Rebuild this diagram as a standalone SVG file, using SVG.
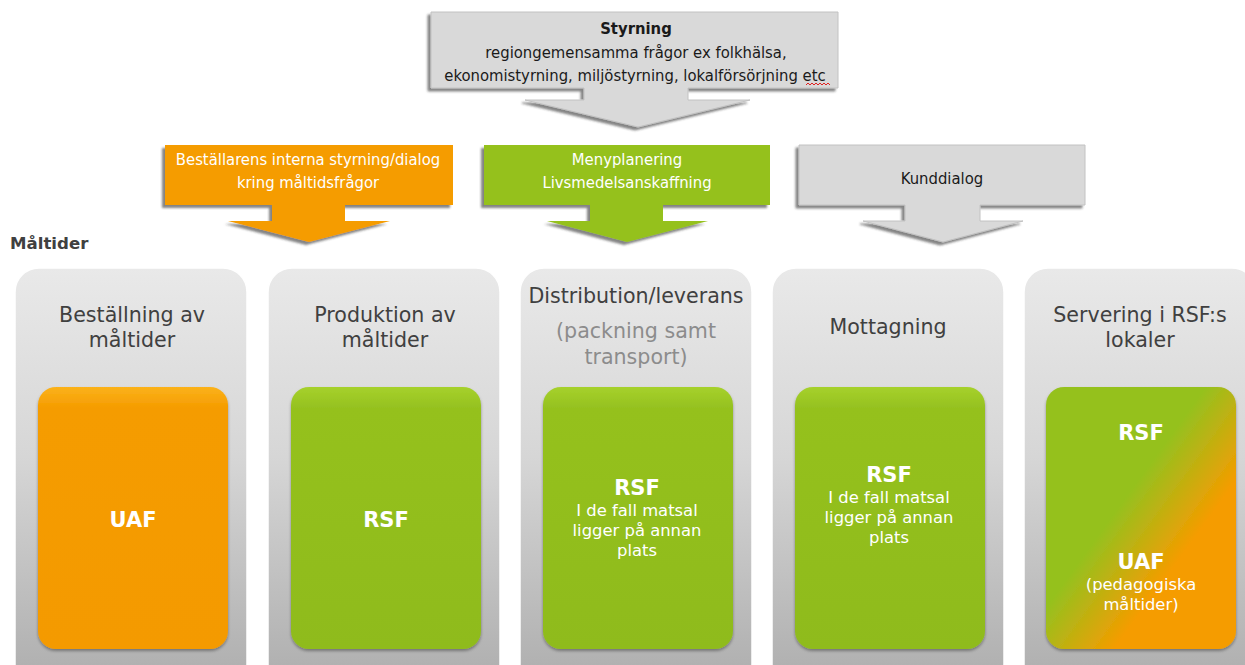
<svg xmlns="http://www.w3.org/2000/svg" width="1245" height="665" viewBox="0 0 1245 665">
  <defs>
    <linearGradient id="colBg" x1="0" y1="0" x2="0" y2="1">
      <stop offset="0" stop-color="#e9e9e9"/>
      <stop offset="0.45" stop-color="#d6d6d6"/>
      <stop offset="1" stop-color="#adadad"/>
    </linearGradient>
    <linearGradient id="orangeFill" x1="0" y1="0" x2="0" y2="1">
      <stop offset="0" stop-color="#fbb21a"/>
      <stop offset="0.08" stop-color="#f59c00"/>
      <stop offset="1" stop-color="#f49a00"/>
    </linearGradient>
    <linearGradient id="greenFill" x1="0" y1="0" x2="0" y2="1">
      <stop offset="0" stop-color="#a6d12c"/>
      <stop offset="0.08" stop-color="#95c11f"/>
      <stop offset="1" stop-color="#8fbb1d"/>
    </linearGradient>
    <linearGradient id="mixFill" x1="0" y1="0" x2="1" y2="1">
      <stop offset="0" stop-color="#95c11f"/>
      <stop offset="0.42" stop-color="#95c11f"/>
      <stop offset="0.68" stop-color="#f59c00"/>
      <stop offset="1" stop-color="#f59c00"/>
    </linearGradient>
    <filter id="shade" x="-10%" y="-10%" width="120%" height="120%">
      <feDropShadow dx="0" dy="2" stdDeviation="1.5" flood-color="#000" flood-opacity="0.35"/>
    </filter>
    <filter id="arrowShade" x="-10%" y="-10%" width="120%" height="130%">
      <feDropShadow dx="-3" dy="3" stdDeviation="0.8" flood-color="#333" flood-opacity="0.6"/>
    </filter>
  </defs>
  <style>
    .arrow-gray { fill: #d9d9d9; stroke: #c2c2c2; stroke-width: 1; }
    .arrow-orange { fill: #f59c00; }
    .arrow-green { fill: #95c11f; }
    .col { fill: url(#colBg); stroke: #ffffff; stroke-width: 1.5; }
    .hdr { font-family: "DejaVu Sans Condensed", "DejaVu Sans", sans-serif; font-stretch: condensed; font-size: 16.5px; text-anchor: middle; }
    .hdr-dark { fill: #1a1a1a; }
    .hdr-light { fill: #ffffff; }
    .title { font-family: "DejaVu Sans", Verdana, sans-serif; font-size: 20.6px; fill: #404040; text-anchor: middle; }
    .subtitle { font-family: "DejaVu Sans", Verdana, sans-serif; font-size: 20.6px; fill: #8c8c8c; text-anchor: middle; }
    .big { font-family: "DejaVu Sans", Verdana, sans-serif; font-size: 21px; font-weight: bold; fill: #ffffff; text-anchor: middle; }
    .small { font-family: "DejaVu Sans", Verdana, sans-serif; font-size: 16.4px; fill: #ffffff; text-anchor: middle; }
  </style>

  <!-- section label -->
  <text x="10" y="249" font-family="DejaVu Sans, Verdana, sans-serif" font-size="16.6" font-weight="bold" fill="#404040">Måltider</text>

  <!-- connectors: block arrows feeding the process steps -->
  <g id="connectors">
    <g id="arrow-styrning" filter="url(#arrowShade)">
      <path class="arrow-gray" d="M431,12 H838 V88 H688 V100 H750 L638,127 L525,100 H584 V88 H431 Z"/>
    </g>
    <g id="arrow-bestallare" filter="url(#arrowShade)">
      <path class="arrow-orange" d="M165,145 H453 V205 H345 V221 H390 L309,242 L228,221 H272 V205 H165 Z"/>
    </g>
    <g id="arrow-meny" filter="url(#arrowShade)">
      <path class="arrow-green" d="M484,145 H770 V205 H663 V221 H708 L627,242 L547,221 H590 V205 H484 Z"/>
    </g>
    <g id="arrow-kund" filter="url(#arrowShade)">
      <path class="arrow-gray" d="M799,145 H1085 V205 H980 V221 H1023 L943,242 L863,221 H905 V205 H799 Z"/>
    </g>
  </g>

  <!-- arrow captions -->
  <g id="label-styrning">
    <text class="hdr hdr-dark" x="636" y="34" font-weight="bold" font-size="16.9">Styrning</text>
    <text class="hdr hdr-dark" x="636" y="58">regiongemensamma frågor ex folkhälsa,</text>
    <text class="hdr hdr-dark" x="635" y="81">ekonomistyrning, miljöstyrning, lokalförsörjning etc</text>
    <path d="M806,85 l2,-2 l2,2 l2,-2 l2,2 l2,-2 l2,2 l2,-2 l2,2 l2,-2 l2,2 l2,-2 l2,2" fill="none" stroke="#e02020" stroke-width="1"/>
  </g>
  <g id="label-bestallare">
    <text class="hdr hdr-light" x="308" y="165">Beställarens interna styrning/dialog</text>
    <text class="hdr hdr-light" x="308" y="188">kring måltidsfrågor</text>
  </g>
  <g id="label-meny">
    <text class="hdr hdr-light" x="627" y="165">Menyplanering</text>
    <text class="hdr hdr-light" x="627" y="188">Livsmedelsanskaffning</text>
  </g>
  <g id="label-kund">
    <text class="hdr hdr-dark" x="942" y="184">Kunddialog</text>
  </g>

  <!-- process step columns -->
  <g id="col-bestallning">
    <rect class="col" x="15" y="268" width="232" height="420" rx="24"/>
    <text class="title" x="132" y="322">Beställning av</text>
    <text class="title" x="132" y="347">måltider</text>
    <rect x="38" y="387" width="190" height="262" rx="18" fill="url(#orangeFill)" filter="url(#shade)"/>
    <text class="big" x="133" y="527">UAF</text>
  </g>

  <g id="col-produktion">
    <rect class="col" x="268" y="268" width="232" height="420" rx="24"/>
    <text class="title" x="385" y="322">Produktion av</text>
    <text class="title" x="385" y="347">måltider</text>
    <rect x="291" y="387" width="190" height="262" rx="18" fill="url(#greenFill)" filter="url(#shade)"/>
    <text class="big" x="386" y="527">RSF</text>
  </g>

  <g id="col-distribution">
    <rect class="col" x="520" y="268" width="232" height="420" rx="24"/>
    <text class="title" x="636" y="303">Distribution/leverans</text>
    <text class="subtitle" x="636" y="338">(packning samt</text>
    <text class="subtitle" x="636" y="364">transport)</text>
    <rect x="543" y="387" width="190" height="262" rx="18" fill="url(#greenFill)" filter="url(#shade)"/>
    <text class="big" x="637" y="495">RSF</text>
    <text class="small" x="637" y="516">I de fall matsal</text>
    <text class="small" x="637" y="536">ligger på annan</text>
    <text class="small" x="637" y="556">plats</text>
  </g>

  <g id="col-mottagning">
    <rect class="col" x="772" y="268" width="232" height="420" rx="24"/>
    <text class="title" x="888" y="334">Mottagning</text>
    <rect x="795" y="387" width="190" height="262" rx="18" fill="url(#greenFill)" filter="url(#shade)"/>
    <text class="big" x="889" y="482">RSF</text>
    <text class="small" x="889" y="503">I de fall matsal</text>
    <text class="small" x="889" y="523">ligger på annan</text>
    <text class="small" x="889" y="543">plats</text>
  </g>

  <g id="col-servering">
    <rect class="col" x="1024" y="268" width="232" height="420" rx="24"/>
    <text class="title" x="1140" y="322">Servering i RSF:s</text>
    <text class="title" x="1140" y="347">lokaler</text>
    <rect x="1046" y="387" width="190" height="262" rx="18" fill="url(#mixFill)" filter="url(#shade)"/>
    <text class="big" x="1141" y="440">RSF</text>
    <text class="big" x="1141" y="569">UAF</text>
    <text class="small" x="1141" y="590">(pedagogiska</text>
    <text class="small" x="1141" y="610">måltider)</text>
  </g>
</svg>
